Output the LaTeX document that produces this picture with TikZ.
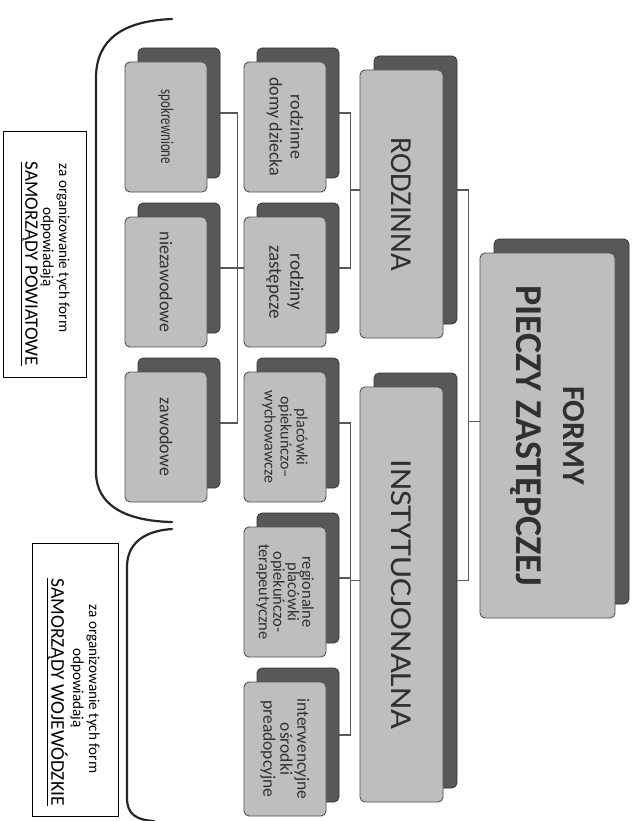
\documentclass[tikz,border=0pt]{standalone}
\usepackage{fontspec}
\setmainfont{Carlito}
\usepackage{graphicx}
\definecolor{frontfill}{HTML}{BEBEBE}
\definecolor{backfill}{HTML}{585858}
\definecolor{edge}{HTML}{505050}
\definecolor{txt}{HTML}{303030}
\newcommand{\rt}[1]{\rotatebox{-90}{\lineskiplimit=-100pt\relax\vbox{\halign{\hfil##\hfil\cr#1\crcr}}}}
\newcommand{\fs}[2]{\fontsize{#1}{#2}\selectfont}
\tikzset{
  frontbox/.style={draw=edge, fill=frontfill, rounded corners=5pt, inner sep=0pt, line width=0.9pt, text=txt},
  backbox/.style={draw=black!80, fill=backfill, rounded corners=5pt, inner sep=0pt, line width=0.7pt},
  conn/.style={draw=black!65, line width=1.4pt},
  brk/.style={draw=black!85, line width=2.2pt, line cap=round},
  infobox/.style={draw=black, line width=0.8pt, inner sep=0pt},
  infoline/.style={rotate=-90, inner sep=0pt}
}
\begin{document}
\begin{tikzpicture}[x=1pt,y=-1pt]
\useasboundingbox (0,0) rectangle (637,821);
% level 0
\node[backbox, minimum width=135, minimum height=365] (formyB) at (561.5,421.5) {};
\node[frontbox, minimum width=135, minimum height=365, font=\fs{32}{47}\bfseries] (formy) at (547.5,435.5)
  {\rt{FORMY\cr{\fs{38}{47}PIECZY ZASTĘPCZEJ}}};
% level 1
\node[backbox, minimum width=83, minimum height=268] (rodzB) at (415.5,190) {};
\node[frontbox, minimum width=83, minimum height=268, font=\fs{30.5}{34}] (rodz) at (401.5,204)
  {\rt{RODZINNA}};
\node[backbox, minimum width=83, minimum height=415] (instB) at (415.5,580.5) {};
\node[frontbox, minimum width=83, minimum height=415, font=\fs{30.5}{34}] (inst) at (401.5,594.5)
  {\rt{\scalebox{1.13}[1]{INSTYTUCJONALNA}}};
% level 2
\node[backbox, minimum width=82, minimum height=130] (l2aB) at (298,113) {};
\node[frontbox, minimum width=82, minimum height=130, font=\fs{18}{21}] (l2a) at (285,127)
  {\rt{rodzinne\cr domy dziecka}};
\node[backbox, minimum width=82, minimum height=130] (l2bB) at (298,268) {};
\node[frontbox, minimum width=82, minimum height=130, font=\fs{19}{21}] (l2b) at (285,282)
  {\rt{rodziny\cr zastępcze}};
\node[backbox, minimum width=82, minimum height=130] (l2cB) at (298,423) {};
\node[frontbox, minimum width=82, minimum height=130, font=\fs{16}{16}] (l2c) at (285,437)
  {\rt{placówki\cr opiekuńczo–\cr wychowawcze}};
\node[backbox, minimum width=82, minimum height=130] (l2dB) at (298,578) {};
\node[frontbox, minimum width=82, minimum height=130, font=\fs{16.5}{14.5}] (l2d) at (285,592)
  {\rt{regionalne\cr placówki\cr opiekuńczo-\cr terapeutyczne}};
\node[backbox, minimum width=82, minimum height=134] (l2eB) at (298,735) {};
\node[frontbox, minimum width=82, minimum height=134, font=\fs{17.5}{17}] (l2e) at (285,749)
  {\rt{interwencyjne\cr ośrodki\cr preadopcyjne}};
% level 3
\node[backbox, minimum width=82, minimum height=130] (l3aB) at (179,113) {};
\node[frontbox, minimum width=82, minimum height=130, font=\fs{18}{21}] (l3a) at (166,127)
  {\rt{\scalebox{0.72}[1]{spokrewnione}}};
\node[backbox, minimum width=82, minimum height=130] (l3bB) at (179,268) {};
\node[frontbox, minimum width=82, minimum height=130, font=\fs{18}{21}] (l3b) at (166,282)
  {\rt{niezawodowe}};
\node[backbox, minimum width=82, minimum height=130] (l3cB) at (179,423) {};
\node[frontbox, minimum width=82, minimum height=130, font=\fs{18}{21}] (l3c) at (166,437)
  {\rt{zawodowe}};
% connectors
\draw[conn] (rodzB.east) -- ++(11,0) coordinate (bus0) |- (instB.east);
\draw[conn] (formy.west |- formyB.center) -- (bus0 |- formyB.center);
\draw[conn] (rodz.west |- rodzB.center) -- ++(-10,0);
\draw[conn] (l2aB.east) -- ++(11,0) |- (l2bB.east);
\draw[conn] (inst.west |- instB.center) -- ++(-10,0);
\draw[conn] (l2cB.east) -- ++(11,0) coordinate (bus2) |- (l2eB.east);
\draw[conn] (l2dB.east) -- (bus2 |- l2dB.east);
\draw[conn] (l2b.west |- l2bB.center) -- ++(-7,0);
\draw[conn] (l3aB.east) -- ++(17,0) coordinate (bus3) |- (l3cB.east);
\draw[conn] (l3bB.east) -- (bus3 |- l3bB.east);
% brackets
\draw[brk] (172,19) .. controls (122,21) and (96,40) .. (96,78) -- (96,472) .. controls (96,505) and (125,521) .. (172,522);
\draw[brk] (172,529) .. controls (142,531) and (127,545) .. (127,567) -- (127,798) .. controls (127,814) and (136,820) .. (154,821);
% info boxes
\node[infobox, minimum width=83, minimum height=246] (powiat) at (44.5,254) {};
\node[infoline, font=\fontsize{15.2}{17}\selectfont] (powiat1) at (63,248) {za organizowanie tych form};
\node[infoline, font=\fontsize{15.2}{17}\selectfont] (powiat2) at (47,247) {odpowiadają};
\node[infoline, font=\fontsize{19}{21}\selectfont] (powiat3) at (29,264) {\underline{SAMORZĄDY POWIATOWE}};
\node[infobox, minimum width=86, minimum height=273] (wojew) at (75,679.5) {};
\node[infoline, font=\fontsize{15.2}{17}\selectfont] (wojew1) at (93,689) {za organizowanie tych form};
\node[infoline, font=\fontsize{15.2}{17}\selectfont] (wojew2) at (77,688) {odpowiadają};
\node[infoline, font=\fontsize{19.5}{21}\selectfont] (wojew3) at (57,692) {\underline{SAMORZĄDY WOJEWÓDZKIE}};
\end{tikzpicture}
\end{document}
